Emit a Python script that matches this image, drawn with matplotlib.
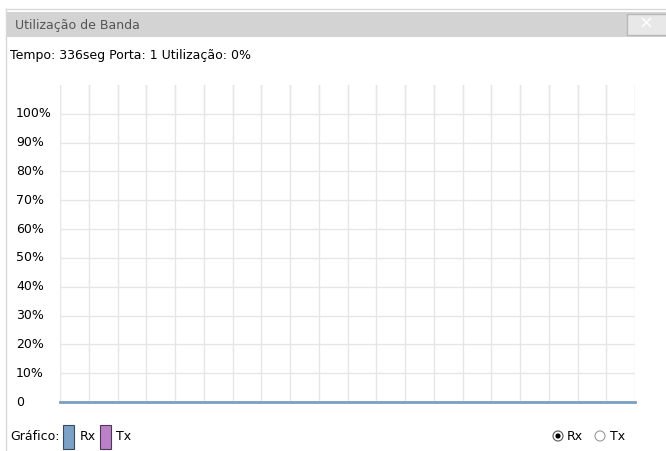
import numpy as np
import matplotlib
matplotlib.use('Agg')
import matplotlib.pyplot as plt
from matplotlib.patches import Rectangle, Circle
from matplotlib.transforms import blended_transform_factory

plt.rcParams['font.family'] = ['DejaVu Sans']

# data
tempo = 336
porta = 1
utilizacao = 0
pontos = list(range(21))
rx = [0] * 21
tx = [0] * 21
y_ticks = [0, 10, 20, 30, 40, 50, 60, 70, 80, 90, 100]
y_labels = ['0', '10%', '20%', '30%', '40%', '50%', '60%', '70%', '80%', '90%', '100%']

W, H = 666, 451
fs = 9
fig = plt.figure(figsize=(W / 100, H / 100), dpi=100)

def fx(px):
    return px / W

def fy(py):
    return 1 - py / H

# window frame
fig.add_artist(plt.Line2D([fx(6), fx(666)], [fy(8.5), fy(8.5)], color='#d8d8d8', lw=1))
fig.add_artist(plt.Line2D([fx(6), fx(6)], [fy(8.5), fy(451)], color='#d8d8d8', lw=1))
fig.add_artist(Rectangle((fx(7), fy(37)), fx(666 - 7), 25 / H, facecolor='#d3d3d3',
                         edgecolor='none', transform=fig.transFigure))
fig.add_artist(Rectangle((fx(627), fy(35)), fx(40), 21 / H, facecolor='#e8e8e8',
                         edgecolor='#b8b8b8', lw=1, transform=fig.transFigure))
fig.text(fx(646), fy(24), '×', color='white', fontsize=13, ha='center', va='center')
fig.text(fx(15), fy(25), 'Utilização de Banda', color='#555555', fontsize=fs, va='center')
fig.text(fx(10), fy(55), 'Tempo: %dseg Porta: %d Utilização: %d%%' % (tempo, porta, utilizacao),
         color='black', fontsize=fs, va='center')

# chart
ax = fig.add_axes([fx(60), fy(402), fx(635 - 60), (402 - 85) / H])
ax.set_xlim(0, 20)
ax.set_ylim(0, 110)
for s in ax.spines.values():
    s.set_visible(False)
ax.set_xticks(pontos)
ax.set_yticks(y_ticks)
ax.tick_params(length=0, labelbottom=False, labelleft=False)
ax.grid(True, color='#e6e6e6', lw=1)
for xv in pontos:
    ax.plot([xv, xv], [100, 110], color='#e6e6e6', lw=1, zorder=0)
ax.plot(pontos, rx, color='#7a9fc4', lw=2, clip_on=False, zorder=3)

trans = blended_transform_factory(fig.transFigure, ax.transData)
for v, lab in zip(y_ticks, y_labels):
    ax.text(fx(16), v, lab, transform=trans, fontsize=fs, va='center', ha='left')

# legend
fig.text(fx(10), fy(437), 'Gráfico:', fontsize=fs, va='center')
fig.add_artist(Rectangle((fx(63), fy(449)), fx(11), 24 / H, facecolor='#7ba1c6',
                         edgecolor='#3a4a5a', lw=0.8, transform=fig.transFigure))
fig.text(fx(80), fy(437), 'Rx', fontsize=fs, va='center')
fig.add_artist(Rectangle((fx(100), fy(449)), fx(11), 24 / H, facecolor='#bb80c8',
                         edgecolor='#4a3a50', lw=0.8, transform=fig.transFigure))
fig.text(fx(116), fy(437), 'Tx', fontsize=fs, va='center')

# radio buttons
ax2 = fig.add_axes([0, 0, 1, 1], facecolor='none')
ax2.set_xlim(0, W)
ax2.set_ylim(H, 0)
ax2.axis('off')
ax2.add_patch(Circle((558, 436), 5, facecolor='white', edgecolor='#555555', lw=0.8))
ax2.add_patch(Circle((558, 436), 2.6, facecolor='black', edgecolor='none'))
ax2.add_patch(Circle((600, 436), 5, facecolor='white', edgecolor='#999999', lw=0.8))
ax2.text(567, 437, 'Rx', fontsize=fs, va='center')
ax2.text(610, 437, 'Tx', fontsize=fs, va='center')

fig.savefig('out.png', dpi=100)
